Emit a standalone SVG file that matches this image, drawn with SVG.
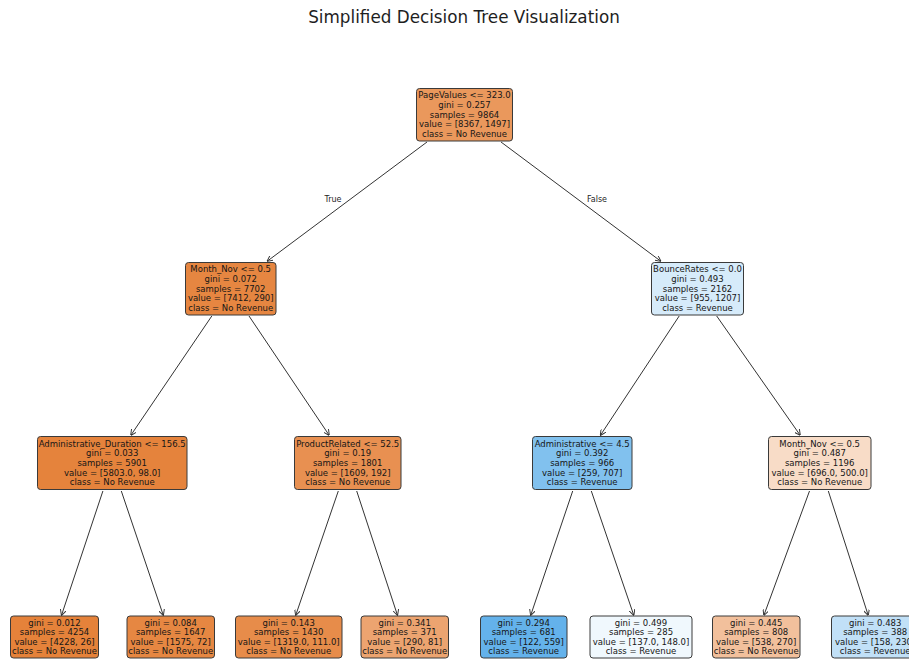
<svg xmlns="http://www.w3.org/2000/svg" width="909" height="659" viewBox="0 0 909 659">
<style>
.bg{fill:#ffffff}
.box{stroke:#3a3a3a;stroke-width:1}
.t{font-family:"DejaVu Sans",sans-serif;font-size:8.5px;fill:#161616;text-anchor:middle}
.title{font-family:"DejaVu Sans",sans-serif;font-size:16.8px;fill:#1e1e1e;text-anchor:middle}
.edge{stroke:#333;stroke-width:1;fill:none;marker-end:url(#ah)}
.lbl{font-family:"DejaVu Sans",sans-serif;font-size:8px;fill:#1e1e1e;text-anchor:middle}
</style>
<defs>
<marker id="ah" viewBox="0 0 10 10" refX="9" refY="5" markerWidth="6" markerHeight="6" markerUnits="userSpaceOnUse" orient="auto">
<path d="M0,0 L10,5 L0,10" fill="none" stroke="#333" stroke-width="1.6"/>
</marker>
</defs>
<rect class="bg" x="0" y="0" width="909" height="659"/>
<text class="title" x="464" y="23">Simplified Decision Tree Visualization</text>

<g id="connectors">
<line class="edge" x1="427" y1="142" x2="267.5" y2="261"/>
<line class="edge" x1="501" y1="142" x2="660.5" y2="261"/>
<line class="edge" x1="211.8" y1="316" x2="131" y2="435"/>
<line class="edge" x1="249" y1="316" x2="329" y2="435"/>
<line class="edge" x1="679.2" y1="316" x2="600.6" y2="435"/>
<line class="edge" x1="716.7" y1="316" x2="800" y2="435"/>
<line class="edge" x1="102.9" y1="491" x2="61.6" y2="615"/>
<line class="edge" x1="121.3" y1="491" x2="163.2" y2="615"/>
<line class="edge" x1="338.3" y1="491" x2="295.8" y2="615"/>
<line class="edge" x1="356.7" y1="491" x2="397.4" y2="615"/>
<line class="edge" x1="572.7" y1="491" x2="530.8" y2="615"/>
<line class="edge" x1="591.3" y1="491" x2="633.7" y2="615"/>
<line class="edge" x1="809.5" y1="491" x2="764" y2="615"/>
<line class="edge" x1="828.3" y1="491" x2="868.1" y2="615"/>
<text class="lbl" x="333" y="202">True</text>
<text class="lbl" x="597" y="202">False</text>
</g>

<g id="root">
<rect class="box" x="416.5" y="88.5" width="96" height="52.5" rx="3" fill="#ea985c"/>
<text class="t"><tspan x="464.5" y="98.3">PageValues &lt;= 323.0</tspan><tspan x="464.5" y="107.9">gini = 0.257</tspan><tspan x="464.5" y="117.5">samples = 9864</tspan><tspan x="464.5" y="127.1">value = [8367, 1497]</tspan><tspan x="464.5" y="136.7">class = No Revenue</tspan></text>
</g>

<g id="n_month_nov_1">
<rect class="box" x="185.5" y="262.5" width="90.5" height="52.5" rx="3" fill="#e68641"/>
<text class="t"><tspan x="230.7" y="272.3">Month_Nov &lt;= 0.5</tspan><tspan x="230.7" y="281.9">gini = 0.072</tspan><tspan x="230.7" y="291.5">samples = 7702</tspan><tspan x="230.7" y="301.1">value = [7412, 290]</tspan><tspan x="230.7" y="310.7">class = No Revenue</tspan></text>
</g>

<g id="n_bouncerates">
<rect class="box" x="651.5" y="262.5" width="92" height="52.5" rx="3" fill="#d6ebfa"/>
<text class="t"><tspan x="697.5" y="272.3">BounceRates &lt;= 0.0</tspan><tspan x="697.5" y="281.9">gini = 0.493</tspan><tspan x="697.5" y="291.5">samples = 2162</tspan><tspan x="697.5" y="301.1">value = [955, 1207]</tspan><tspan x="697.5" y="310.7">class = Revenue</tspan></text>
</g>

<g id="n_admin_duration">
<rect class="box" x="37.5" y="436.5" width="149.5" height="53" rx="3" fill="#e5833c"/>
<text class="t"><tspan x="112.2" y="446.8">Administrative_Duration &lt;= 156.5</tspan><tspan x="112.2" y="456.4">gini = 0.033</tspan><tspan x="112.2" y="466">samples = 5901</tspan><tspan x="112.2" y="475.6">value = [5803.0, 98.0]</tspan><tspan x="112.2" y="485.2">class = No Revenue</tspan></text>
</g>

<g id="n_productrelated">
<rect class="box" x="294.5" y="436.5" width="106.5" height="53" rx="3" fill="#e89051"/>
<text class="t"><tspan x="347.7" y="446.8">ProductRelated &lt;= 52.5</tspan><tspan x="347.7" y="456.4">gini = 0.19</tspan><tspan x="347.7" y="466">samples = 1801</tspan><tspan x="347.7" y="475.6">value = [1609, 192]</tspan><tspan x="347.7" y="485.2">class = No Revenue</tspan></text>
</g>

<g id="n_administrative">
<rect class="box" x="532.5" y="436.5" width="99.5" height="53" rx="3" fill="#81c1ee"/>
<text class="t"><tspan x="582.2" y="446.8">Administrative &lt;= 4.5</tspan><tspan x="582.2" y="456.4">gini = 0.392</tspan><tspan x="582.2" y="466">samples = 966</tspan><tspan x="582.2" y="475.6">value = [259, 707]</tspan><tspan x="582.2" y="485.2">class = Revenue</tspan></text>
</g>

<g id="n_month_nov_2">
<rect class="box" x="768.5" y="436.5" width="102.5" height="53" rx="3" fill="#f8dcc7"/>
<text class="t"><tspan x="819.7" y="446.8">Month_Nov &lt;= 0.5</tspan><tspan x="819.7" y="456.4">gini = 0.487</tspan><tspan x="819.7" y="466">samples = 1196</tspan><tspan x="819.7" y="475.6">value = [696.0, 500.0]</tspan><tspan x="819.7" y="485.2">class = No Revenue</tspan></text>
</g>

<g id="leaf_1">
<rect class="box" x="10.5" y="616" width="88" height="42" rx="3" fill="#e5823a"/>
<text class="t"><tspan x="54.5" y="625.6">gini = 0.012</tspan><tspan x="54.5" y="635.2">samples = 4254</tspan><tspan x="54.5" y="644.8">value = [4228, 26]</tspan><tspan x="54.5" y="654.4">class = No Revenue</tspan></text>
</g>
<g id="leaf_2">
<rect class="box" x="127" y="616" width="87.5" height="42" rx="3" fill="#e68742"/>
<text class="t"><tspan x="170.7" y="625.6">gini = 0.084</tspan><tspan x="170.7" y="635.2">samples = 1647</tspan><tspan x="170.7" y="644.8">value = [1575, 72]</tspan><tspan x="170.7" y="654.4">class = No Revenue</tspan></text>
</g>
<g id="leaf_3">
<rect class="box" x="235.5" y="616" width="106.5" height="42" rx="3" fill="#e78c4a"/>
<text class="t"><tspan x="288.7" y="625.6">gini = 0.143</tspan><tspan x="288.7" y="635.2">samples = 1430</tspan><tspan x="288.7" y="644.8">value = [1319.0, 111.0]</tspan><tspan x="288.7" y="654.4">class = No Revenue</tspan></text>
</g>
<g id="leaf_4">
<rect class="box" x="361" y="616" width="87.5" height="42" rx="3" fill="#eca470"/>
<text class="t"><tspan x="404.7" y="625.6">gini = 0.341</tspan><tspan x="404.7" y="635.2">samples = 371</tspan><tspan x="404.7" y="644.8">value = [290, 81]</tspan><tspan x="404.7" y="654.4">class = No Revenue</tspan></text>
</g>
<g id="leaf_5">
<rect class="box" x="480.5" y="616" width="86.5" height="42" rx="3" fill="#64b2eb"/>
<text class="t"><tspan x="523.7" y="625.6">gini = 0.294</tspan><tspan x="523.7" y="635.2">samples = 681</tspan><tspan x="523.7" y="644.8">value = [122, 559]</tspan><tspan x="523.7" y="654.4">class = Revenue</tspan></text>
</g>
<g id="leaf_6">
<rect class="box" x="590" y="616" width="102" height="42" rx="3" fill="#f0f8fd"/>
<text class="t"><tspan x="641" y="625.6">gini = 0.499</tspan><tspan x="641" y="635.2">samples = 285</tspan><tspan x="641" y="644.8">value = [137.0, 148.0]</tspan><tspan x="641" y="654.4">class = Revenue</tspan></text>
</g>
<g id="leaf_7">
<rect class="box" x="712.5" y="616" width="87.5" height="42" rx="3" fill="#f2c09c"/>
<text class="t"><tspan x="756.2" y="625.6">gini = 0.445</tspan><tspan x="756.2" y="635.2">samples = 808</tspan><tspan x="756.2" y="644.8">value = [538, 270]</tspan><tspan x="756.2" y="654.4">class = No Revenue</tspan></text>
</g>
<g id="leaf_8">
<rect class="box" x="831.5" y="616" width="87.5" height="42" rx="3" fill="#c1e0f7"/>
<text class="t"><tspan x="875.2" y="625.6">gini = 0.483</tspan><tspan x="875.2" y="635.2">samples = 388</tspan><tspan x="875.2" y="644.8">value = [158, 230]</tspan><tspan x="875.2" y="654.4">class = Revenue</tspan></text>
</g>
</svg>
